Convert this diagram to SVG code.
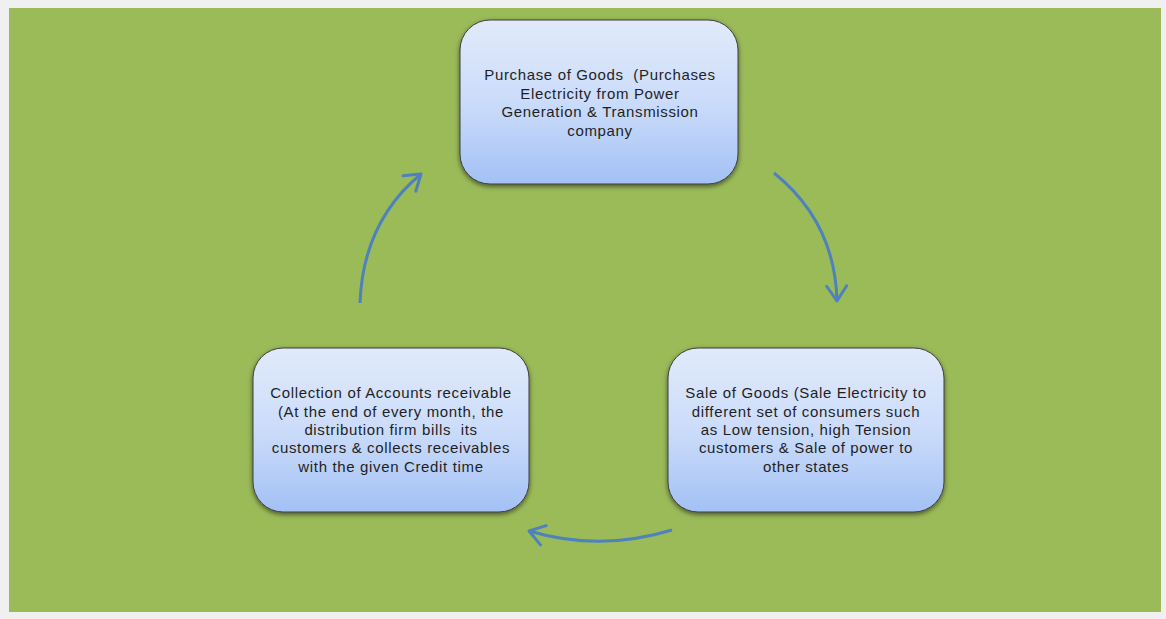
<svg xmlns="http://www.w3.org/2000/svg" width="1166" height="619" viewBox="0 0 1166 619">
<style>
.box{fill:url(#g);stroke:#3f3f3f;stroke-width:1;filter:url(#sh)}
.t{font-family:"Liberation Sans",Arial,sans-serif;font-size:15px;letter-spacing:0.65px;fill:#1f1f1f;text-anchor:middle;white-space:pre}
.arr{fill:none;stroke:#4f81bd;stroke-width:3;marker-end:url(#ah)}
</style>
<defs>
<linearGradient id="g" x1="0" y1="0" x2="0" y2="1">
<stop offset="0" stop-color="#e1eafb"/>
<stop offset="0.5" stop-color="#cbdcfa"/>
<stop offset="1" stop-color="#a3c1f5"/>
</linearGradient>
<filter id="sh" x="-10%" y="-10%" width="120%" height="130%">
<feDropShadow dx="0" dy="2" stdDeviation="2.5" flood-color="#000" flood-opacity="0.55"/>
</filter>
<marker id="ah" markerUnits="userSpaceOnUse" viewBox="-20 -12 24 24" refX="0" refY="0" markerWidth="24" markerHeight="24" orient="auto">
<path d="M-15,-10 L0,0 L-15,10" fill="none" stroke="#4f81bd" stroke-width="3" stroke-linecap="round" stroke-linejoin="round"/>
</marker>
</defs>
<rect x="0" y="0" width="1166" height="619" fill="#f0f0f0"/>
<rect x="9" y="8" width="1152" height="604" fill="#9bbb59"/>
<g id="connectors">
<path class="arr" d="M360,303 Q363,222 421,174"/>
<path class="arr" d="M774,173 Q835,222 837,301"/>
<path class="arr" d="M672,530 Q600,552 529,531"/>
</g>
<g id="purchase">
<rect class="box" x="460" y="20" width="278" height="164" rx="30"/>
<text class="t" x="600" y="80" xml:space="preserve">Purchase of Goods  (Purchases</text>
<text class="t" x="600" y="98.5">Electricity from Power</text>
<text class="t" x="600" y="117">Generation &amp; Transmission</text>
<text class="t" x="600" y="135.5">company</text>
</g>
<g id="collection">
<rect class="box" x="253" y="348" width="276" height="164" rx="30"/>
<text class="t" x="391" y="398">Collection of Accounts receivable</text>
<text class="t" x="391" y="417">(At the end of every month, the</text>
<text class="t" x="391" y="435" xml:space="preserve">distribution firm bills  its</text>
<text class="t" x="391" y="453">customers &amp; collects receivables</text>
<text class="t" x="391" y="472">with the given Credit time</text>
</g>
<g id="sale">
<rect class="box" x="668" y="348" width="276" height="164" rx="30"/>
<text class="t" x="806" y="398">Sale of Goods (Sale Electricity to</text>
<text class="t" x="806" y="417">different set of consumers such</text>
<text class="t" x="806" y="435">as Low tension, high Tension</text>
<text class="t" x="806" y="453">customers &amp; Sale of power to</text>
<text class="t" x="806" y="472">other states</text>
</g>
</svg>
